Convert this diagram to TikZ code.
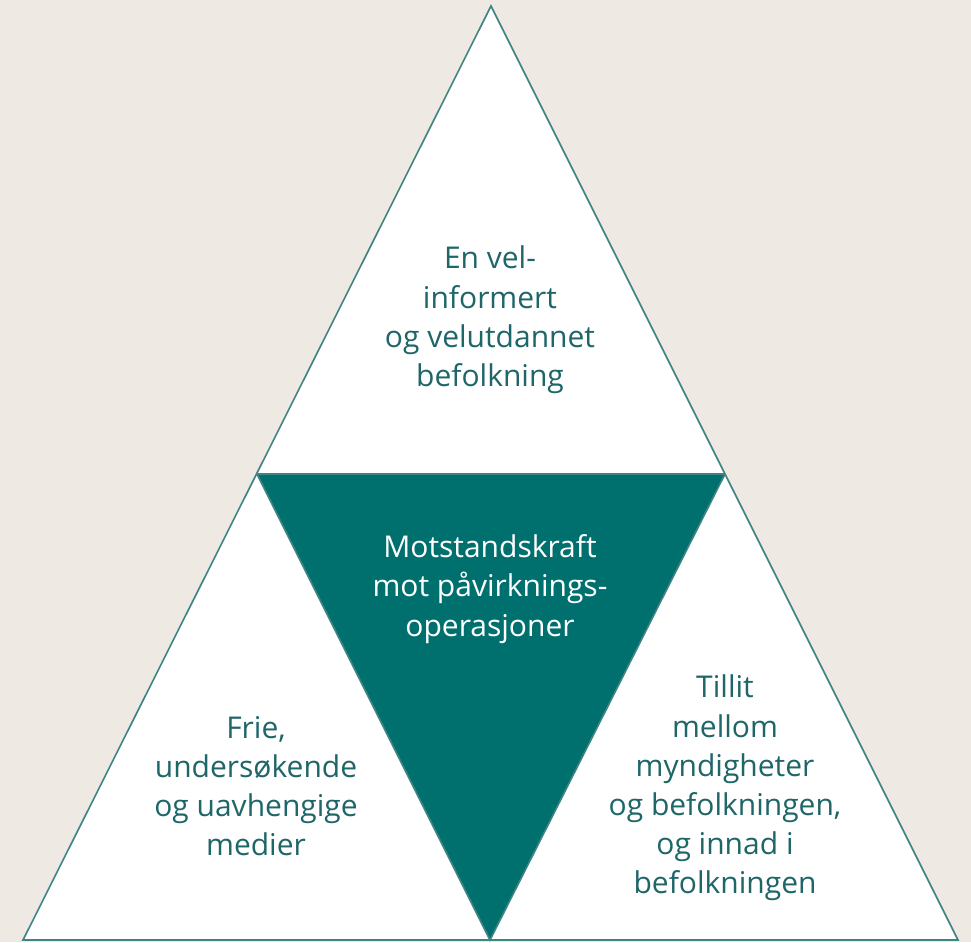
\documentclass[tikz,border=0pt]{standalone}
\usepackage{fontspec}
\setmainfont{Open Sans}
\definecolor{bg}{HTML}{EEE9E2}
\definecolor{teal}{HTML}{00706F}
\definecolor{edge}{HTML}{3F8384}
\definecolor{txt}{HTML}{1F6668}
\begin{document}
\begin{tikzpicture}[x=1pt,y=-1pt,
  lbl/.style={align=center,text=txt,font=\fontsize{30}{39.2}\selectfont},
  clbl/.style={align=center,text=white,font=\fontsize{30}{39.2}\selectfont}]
\fill[bg] (0,0) rectangle (971,942);
\useasboundingbox (0,0) rectangle (971,942);
\coordinate (A) at (491,6);
\coordinate (L) at (23,940);
\coordinate (R) at (958,940);
\coordinate (ML) at (257,474);
\coordinate (MR) at (725,474);
\coordinate (MB) at (490,940);
\fill[white] (A) -- (L) -- (R) -- cycle;
\fill[teal] (ML) -- (MR) -- (MB) -- cycle;
\draw[edge,line width=1.6pt,line join=miter] (A) -- (L) -- (R) -- cycle;
\draw[edge,line width=1.6pt] (ML) -- (MR);
\draw[edge,line width=1.6pt] (ML) -- (MB) -- (MR);
\node[lbl] (top) at (490,320) {En vel-\\informert\\og velutdannet\\befolkning};
\node[clbl] (mid) at (490,589) {Motstandskraft\\mot påvirknings-\\operasjoner};
\node[lbl] (left) at (256,786) {Frie,\\undersøkende\\og uavhengige\\medier};
\node[lbl] (right) at (725,788) {Tillit\\mellom\\myndigheter\\og befolkningen,\\og innad i\\befolkningen};
\end{tikzpicture}
\end{document}
